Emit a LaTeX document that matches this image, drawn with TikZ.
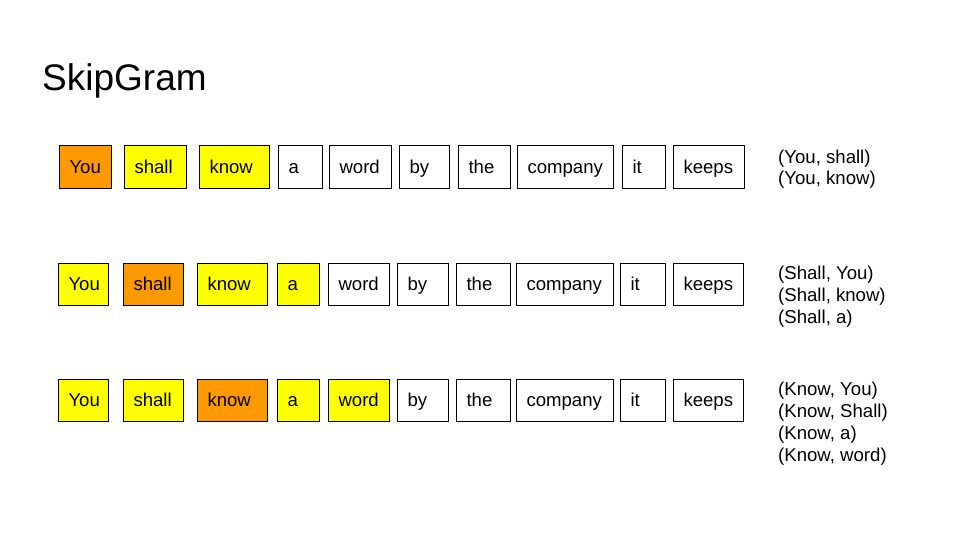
\documentclass[tikz,border=0pt]{standalone}
\usepackage{fontspec}
\setmainfont{Liberation Sans}
\usetikzlibrary{positioning}
\definecolor{centreword}{HTML}{FF9900}
\definecolor{contextword}{HTML}{FFFF00}

\begin{document}
\begin{tikzpicture}[x=1pt,y=-1pt,
                    word node/.style={draw,line width=1pt,fill=white,anchor=west,
                      inner xsep=10pt,inner ysep=0pt,minimum height=42pt,align=left,
                      text height=13.4pt,text depth=0pt,font=\fontsize{18.6}{22}\selectfont},
                    centre node/.style={word node,fill=centreword},
                    context node/.style={word node,fill=contextword},
                    pair node/.style={anchor=base west,align=left,inner sep=0pt,
                      font=\fontsize{18.6}{21.7}\selectfont}
                   ]
  \path[use as bounding box,fill=white] (0,0) rectangle (960,540);

  \node[anchor=base west,inner sep=0pt,font=\fontsize{37}{44}\selectfont] (title) at (42,91) {SkipGram};

  % centre word: You
  \node[centre node,text width=32pt] (you1) at (59,167) {You};
  \node[context node,text width=42pt] (shall1) [right=12pt of you1] {shall};
  \node[context node,text width=50pt] (know1) [right=12pt of shall1] {know};
  \node[word node,text width=24pt] (a1) [right=8pt of know1] {a};
  \node[word node,text width=42pt] (word1) [right=6pt of a1] {word};
  \node[word node,text width=30pt] (by1) [right=7pt of word1] {by};
  \node[word node,text width=32pt] (the1) [right=8pt of by1] {the};
  \node[word node,text width=76pt] (company1) [right=6pt of the1] {company};
  \node[word node,text width=23pt] (it1) [right=8pt of company1] {it};
  \node[word node,text width=51pt] (keeps1) [right=7pt of it1] {keeps};
  \node[pair node] (pairs1) at (778,185) {(You, shall)\\(You, know)}; % base = last line

  % centre word: shall
  \node[context node,text width=30pt] (you2) at (58,284) {You};
  \node[centre node,text width=40pt] (shall2) [right=14pt of you2] {shall};
  \node[context node,text width=50pt] (know2) [right=13pt of shall2] {know};
  \node[context node,text width=22pt] (a2) [right=9pt of know2] {a};
  \node[word node,text width=41pt] (word2) [right=8pt of a2] {word};
  \node[word node,text width=31pt] (by2) [right=7pt of word2] {by};
  \node[word node,text width=34pt] (the2) [right=7pt of by2] {the};
  \node[word node,text width=77pt] (company2) [right=5pt of the2] {company};
  \node[word node,text width=25pt] (it2) [right=6pt of company2] {it};
  \node[word node,text width=50pt] (keeps2) [right=7pt of it2] {keeps};
  \node[pair node] (pairs2) at (778,323) {(Shall, You)\\(Shall, know)\\(Shall, a)};

  % centre word: know
  \node[context node,text width=30pt] (you3) at (58,400) {You};
  \node[context node,text width=40pt] (shall3) [right=14pt of you3] {shall};
  \node[centre node,text width=50pt] (know3) [right=13pt of shall3] {know};
  \node[context node,text width=22pt] (a3) [right=9pt of know3] {a};
  \node[context node,text width=41pt] (word3) [right=8pt of a3] {word};
  \node[word node,text width=31pt] (by3) [right=7pt of word3] {by};
  \node[word node,text width=34pt] (the3) [right=7pt of by3] {the};
  \node[word node,text width=77pt] (company3) [right=5pt of the3] {company};
  \node[word node,text width=25pt] (it3) [right=6pt of company3] {it};
  \node[word node,text width=50pt] (keeps3) [right=7pt of it3] {keeps};
  \node[pair node] (pairs3) at (778,461) {(Know, You)\\(Know, Shall)\\(Know, a)\\(Know, word)};
\end{tikzpicture}
\end{document}
